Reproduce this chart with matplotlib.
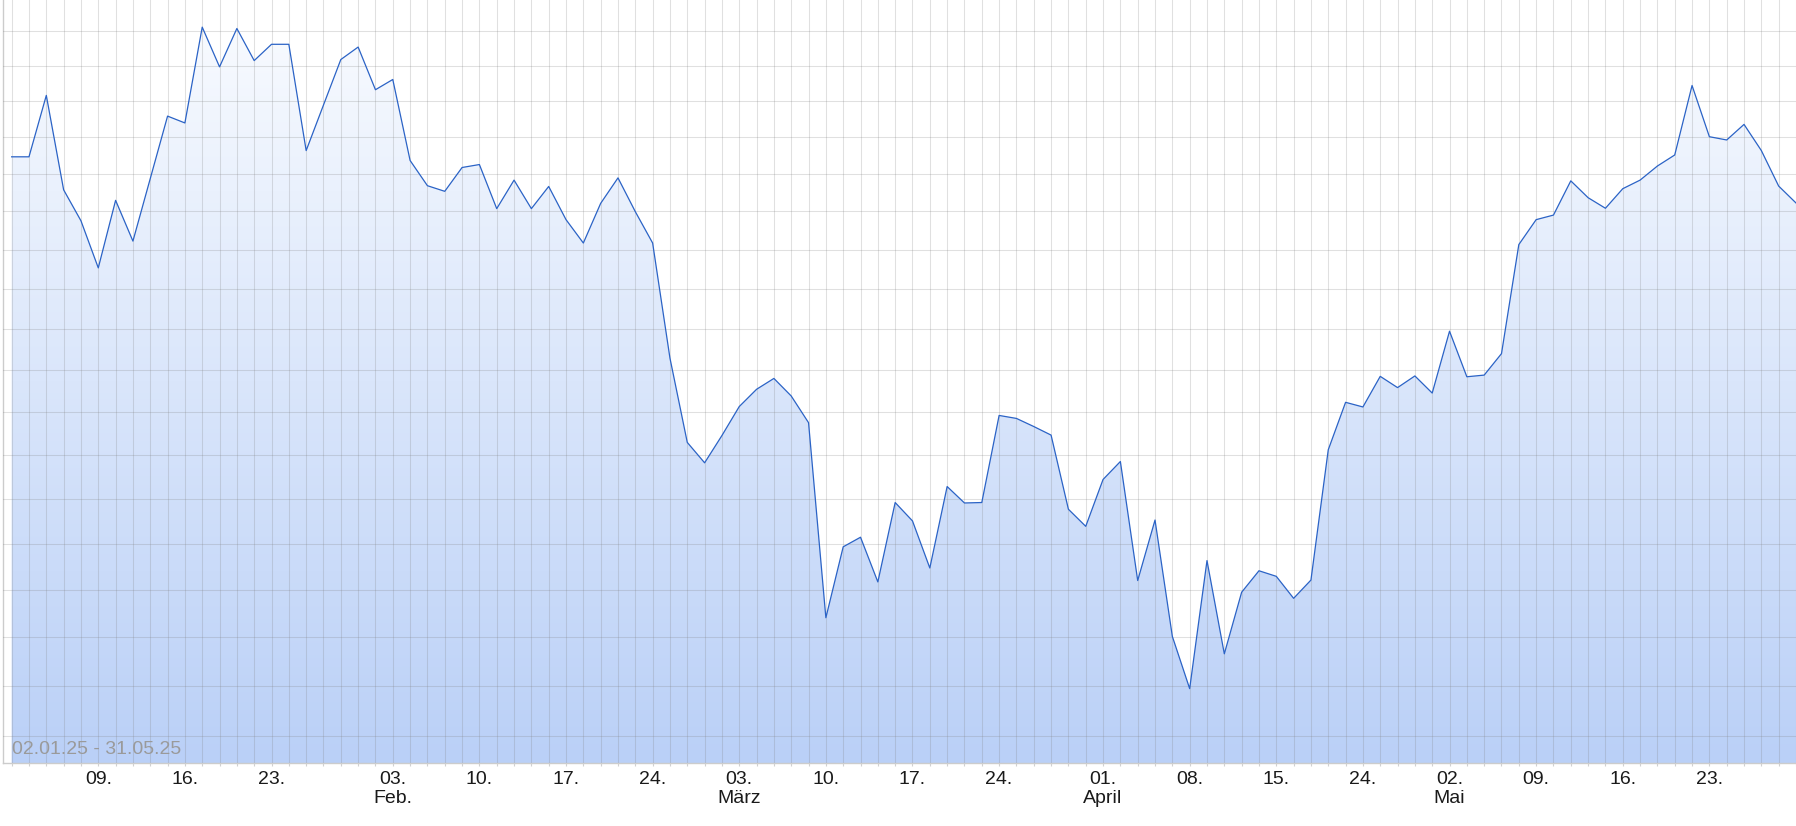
import numpy as np
import matplotlib
matplotlib.use('Agg')
from matplotlib import pyplot as plt
from matplotlib.ticker import NullLocator

# closing prices per trading day, 02.01.25 - 30.05.25
price = [48.46, 48.46, 50.16, 47.57, 46.75, 45.53, 47.29, 46.22, 47.87, 49.58,
         49.39, 52.12, 50.97, 52.08, 51.15, 51.62, 51.62, 48.63, 49.89, 51.18,
         51.54, 50.32, 50.61, 48.36, 47.68, 47.53, 48.17, 48.25, 47.07, 47.83,
         47.07, 47.66, 46.78, 46.17, 47.21, 47.89, 46.99, 46.17, 43.28, 41.28,
         40.81, 41.44, 42.12, 42.53, 42.79, 42.37, 41.74, 37.41, 38.93, 39.14,
         38.17, 39.91, 39.50, 38.47, 40.27, 39.90, 39.91, 41.91, 41.84, 41.65,
         41.45, 39.76, 39.38, 40.43, 40.84, 38.20, 39.52, 37.02, 35.95, 38.63,
         36.66, 37.95, 38.41, 38.29, 37.82, 38.21, 41.11, 42.22, 42.11, 42.84,
         42.57, 42.85, 42.44, 43.94, 42.83, 42.87, 43.39, 46.13, 46.78, 46.90,
         47.81, 47.36, 47.08, 47.60, 47.83, 48.21, 48.51, 50.44, 49.01, 48.92,
         49.35, 48.63, 47.67, 47.22]

# trading-day index of each labelled tick
tick_days = [5, 10, 15, 22, 27, 32, 37, 42, 47, 52, 57, 63, 68, 73, 78, 83, 88, 93, 98]
tick_labels = ['09.', '16.', '23.', '03.\nFeb.', '10.', '17.', '24.', '03.\nMärz',
               '10.', '17.', '24.', '01.\nApril', '08.', '15.', '24.', '02.\nMai',
               '09.', '16.', '23.']
grid_levels = list(range(35, 53))
range_label = '02.01.25 - 31.05.25'

plt.rcParams['font.family'] = ['Liberation Sans', 'DejaVu Sans']

W, H = 1796, 826
fig = plt.figure(figsize=(W / 100, H / 100), dpi=100)
ax = fig.add_axes([3 / W, 63 / H, 1793 / W, 763 / H])
ax.set_yscale('log')

x = np.arange(len(price))

# gradient fill under the line
fill = ax.fill_between(x, price, 30, facecolor='none', edgecolor='none')
top = np.array([250, 252, 255]) / 255
bottom = np.array([186, 208, 247]) / 255
t = np.linspace(0, 1, 256).reshape(-1, 1, 1)
rgb = top * (1 - t) + bottom * t
img = ax.imshow(rgb, extent=[0, 1, 0, 1], transform=ax.transAxes,
                aspect='auto', zorder=1, interpolation='bilinear')
img.set_clip_path(fill.get_paths()[0], transform=ax.transData)

ax.plot(x, price, color='#2b63c6', lw=0.9, zorder=3)

ax.set_xlim(-0.5, len(price) - 1)
ax.set_ylim(34.48, 52.92)

labels = [''] * len(price)
for d, lab in zip(tick_days, tick_labels):
    labels[d] = lab
ax.set_xticks(x)
ax.set_xticklabels(labels)
for lbl in ax.get_xticklabels():
    lbl.set_linespacing(1.12)
ax.tick_params(axis='x', length=2, color='#d0d0d0', pad=4, labelsize=14,
               labelcolor='#1a1a1a')

ax.set_yticks(grid_levels)
ax.yaxis.set_minor_locator(NullLocator())
ax.set_yticklabels([])
ax.tick_params(axis='y', length=0)

ax.grid(True, color='#7f7f7f', alpha=0.24, lw=0.75)
ax.set_axisbelow(False)

for s in ['top', 'right']:
    ax.spines[s].set_visible(False)
for s in ['left', 'bottom']:
    ax.spines[s].set_color('#cccccc')
    ax.spines[s].set_linewidth(1)

ax.text(0.005, 9 / 763, range_label, transform=ax.transAxes, color='#9a9a9a',
        fontsize=14, va='baseline', zorder=4)

fig.savefig('out.png', dpi=100)
